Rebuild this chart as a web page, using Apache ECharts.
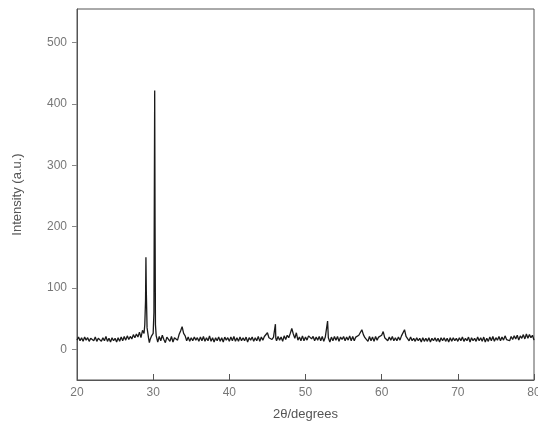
<!DOCTYPE html>
<html>
<head>
<meta charset="utf-8">
<script src="https://cdn.jsdelivr.net/npm/echarts@6/dist/echarts.min.js"></script>
<style>
  html, body { margin: 0; padding: 0; background: #fff; }
  #chart { width: 538px; height: 429px; }
</style>
</head>
<body>
<div id="chart"></div>
<script>
// XRD pattern: diffraction angle (2θ, degrees) and measured intensity (a.u.)
const twoTheta = [
  20.0, 20.2, 20.4, 20.6, 20.8, 21.0, 21.2, 21.4, 21.6, 21.8,
  22.0, 22.2, 22.4, 22.6, 22.8, 23.0, 23.2, 23.4, 23.6, 23.8,
  24.0, 24.2, 24.4, 24.6, 24.8, 25.0, 25.2, 25.4, 25.6, 25.8,
  26.0, 26.2, 26.4, 26.6, 26.8, 27.0, 27.2, 27.4, 27.6, 27.8,
  28.0, 28.2, 28.4, 28.6, 28.8, 28.9, 29.0, 29.05, 29.1, 29.2, 29.4, 29.5, 29.6, 29.8,
  30.0, 30.1, 30.2, 30.25, 30.3, 30.4, 30.6, 30.8,
  31.0, 31.2, 31.4, 31.6, 31.8,
  32.0, 32.2, 32.4, 32.6, 32.8, 33.0, 33.2, 33.4, 33.6, 33.8,
  34.0, 34.2, 34.4, 34.6, 34.8, 35.0, 35.2, 35.4, 35.6, 35.8,
  36.0, 36.2, 36.4, 36.6, 36.8, 37.0, 37.2, 37.4, 37.6, 37.8,
  38.0, 38.2, 38.4, 38.6, 38.8, 39.0, 39.2, 39.4, 39.6, 39.8,
  40.0, 40.2, 40.4, 40.6, 40.8, 41.0, 41.2, 41.4, 41.6, 41.8,
  42.0, 42.2, 42.4, 42.6, 42.8, 43.0, 43.2, 43.4, 43.6, 43.8,
  44.0, 44.2, 44.4, 44.6, 44.8, 45.0, 45.2, 45.4, 45.6, 45.8, 46.0, 46.05, 46.1,
  46.2, 46.4, 46.6, 46.8, 47.0, 47.2, 47.4, 47.6, 47.8,
  48.0, 48.2, 48.4, 48.6, 48.8, 49.0, 49.2, 49.4, 49.6, 49.8,
  50.0, 50.2, 50.4, 50.6, 50.8, 51.0, 51.2, 51.4, 51.6, 51.8,
  52.0, 52.2, 52.4, 52.6, 52.8, 52.9, 53.0, 53.2, 53.4, 53.6, 53.8,
  54.0, 54.2, 54.4, 54.6, 54.8, 55.0, 55.2, 55.4, 55.6, 55.8,
  56.0, 56.2, 56.4, 56.6, 56.8, 57.0, 57.2, 57.4, 57.6, 57.8,
  58.0, 58.2, 58.4, 58.6, 58.8, 59.0, 59.2, 59.4, 59.6, 59.8,
  60.0, 60.2, 60.4, 60.6, 60.8, 61.0, 61.2, 61.4, 61.6, 61.8,
  62.0, 62.2, 62.4, 62.6, 62.8, 63.0, 63.2, 63.4, 63.6, 63.8,
  64.0, 64.2, 64.4, 64.6, 64.8, 65.0, 65.2, 65.4, 65.6, 65.8,
  66.0, 66.2, 66.4, 66.6, 66.8, 67.0, 67.2, 67.4, 67.6, 67.8,
  68.0, 68.2, 68.4, 68.6, 68.8, 69.0, 69.2, 69.4, 69.6, 69.8,
  70.0, 70.2, 70.4, 70.6, 70.8, 71.0, 71.2, 71.4, 71.6, 71.8,
  72.0, 72.2, 72.4, 72.6, 72.8, 73.0, 73.2, 73.4, 73.6, 73.8,
  74.0, 74.2, 74.4, 74.6, 74.8, 75.0, 75.2, 75.4, 75.6, 75.8,
  76.0, 76.2, 76.4, 76.6, 76.8, 77.0, 77.2, 77.4, 77.6, 77.8,
  78.0, 78.2, 78.4, 78.6, 78.8, 79.0, 79.2, 79.4, 79.6, 79.8, 80.0
];

const intensity = [
  15, 20, 14, 19, 13, 20, 15, 19, 13, 18,
  19, 14, 20, 13, 18, 20, 13, 19, 14, 21,
  13, 18, 12, 19, 14, 18, 12, 19, 13, 20,
  14, 21, 15, 22, 16, 21, 17, 24, 19, 25,
  20, 28, 19, 31, 26, 40, 80, 150, 95, 35, 18, 11, 16, 22,
  26, 60, 422, 200, 40, 22, 12, 21,
  14, 23, 16, 11, 20,
  23, 13, 21, 12, 19, 22, 15, 24, 30, 37,
  26, 22, 14, 20, 13, 19, 14, 20, 15, 19,
  13, 20, 14, 21, 13, 19, 14, 22, 13, 19,
  12, 19, 14, 20, 13, 19, 12, 20, 15, 19,
  13, 20, 14, 21, 13, 19, 13, 20, 14, 19,
  14, 20, 12, 19, 15, 20, 13, 19, 14, 21,
  13, 20, 15, 21, 18, 27, 19, 22, 16, 20, 22, 41, 18,
  14, 21, 15, 20, 13, 22, 16, 23, 19,
  26, 34, 25, 18, 27, 15, 20, 14, 22, 14,
  20, 15, 22, 24, 17, 21, 14, 20, 15, 21,
  14, 21, 13, 20, 19, 46, 19, 12, 20, 14, 21,
  15, 21, 13, 20, 16, 21, 14, 20, 15, 22,
  14, 21, 14, 20, 18, 23, 26, 32, 24, 19,
  20, 13, 21, 14, 20, 13, 21, 15, 20, 18,
  23, 29, 19, 21, 14, 20, 15, 21, 14, 19,
  14, 20, 15, 22, 23, 32, 21, 19, 14, 20,
  14, 18, 13, 19, 14, 18, 12, 19, 13, 18,
  13, 19, 12, 18, 14, 19, 13, 18, 12, 19,
  14, 19, 13, 18, 12, 19, 13, 19, 14, 18,
  13, 19, 14, 20, 13, 18, 14, 20, 12, 19,
  14, 18, 13, 20, 14, 19, 13, 20, 12, 18,
  13, 20, 14, 21, 13, 19, 15, 21, 14, 20,
  15, 22, 16, 19, 14, 21, 16, 22, 17, 23,
  15, 22, 18, 24, 17, 25, 18, 24, 19, 23, 15
];

const yTickValues = [0, 100, 200, 300, 400, 500];

const points = twoTheta.map((t, i) => [t, intensity[i]]);

const axisColor = '#555';
const labelColor = '#777';
const fontFamily = '"Liberation Sans", Arial, sans-serif';

const chart = echarts.init(document.getElementById('chart'), null, { renderer: 'canvas' });

chart.setOption({
  animation: false,
  backgroundColor: '#fff',
  grid: {
    left: 77, right: 4, top: 9, bottom: 49,
    outerBoundsMode: 'none',
    containLabel: false,
    show: true, borderColor: axisColor, borderWidth: 1
  },
  xAxis: {
    type: 'value',
    min: 20, max: 80, interval: 10,
    name: '2θ/degrees',
    nameLocation: 'middle',
    nameGap: 28,
    nameTextStyle: { color: '#555', fontSize: 13, fontFamily },
    axisLine: { show: true, onZero: false, lineStyle: { color: axisColor, width: 1 } },
    axisTick: { show: true, inside: true, length: 6, lineStyle: { color: axisColor } },
    axisLabel: { color: labelColor, fontSize: 12, fontFamily, margin: 7, hideOverlap: false },
    splitLine: { show: false }
  },
  yAxis: {
    type: 'value',
    min: -50, max: 555,
    name: 'Intensity (a.u.)',
    nameLocation: 'middle',
    nameGap: 53,
    nameTextStyle: { color: '#555', fontSize: 13, fontFamily },
    axisLine: { show: true, lineStyle: { color: axisColor, width: 1 } },
    axisTick: { show: true, inside: false, length: 5, customValues: yTickValues, lineStyle: { color: '#888' } },
    axisLabel: { color: labelColor, fontSize: 12, fontFamily, margin: 10, customValues: yTickValues },
    splitLine: { show: false }
  },
  series: [{
    type: 'line',
    data: points,
    showSymbol: false,
    symbol: 'none',
    lineStyle: { color: '#1a1a1a', width: 1.3 },
    clip: true
  }]
});
</script>
</body>
</html>
